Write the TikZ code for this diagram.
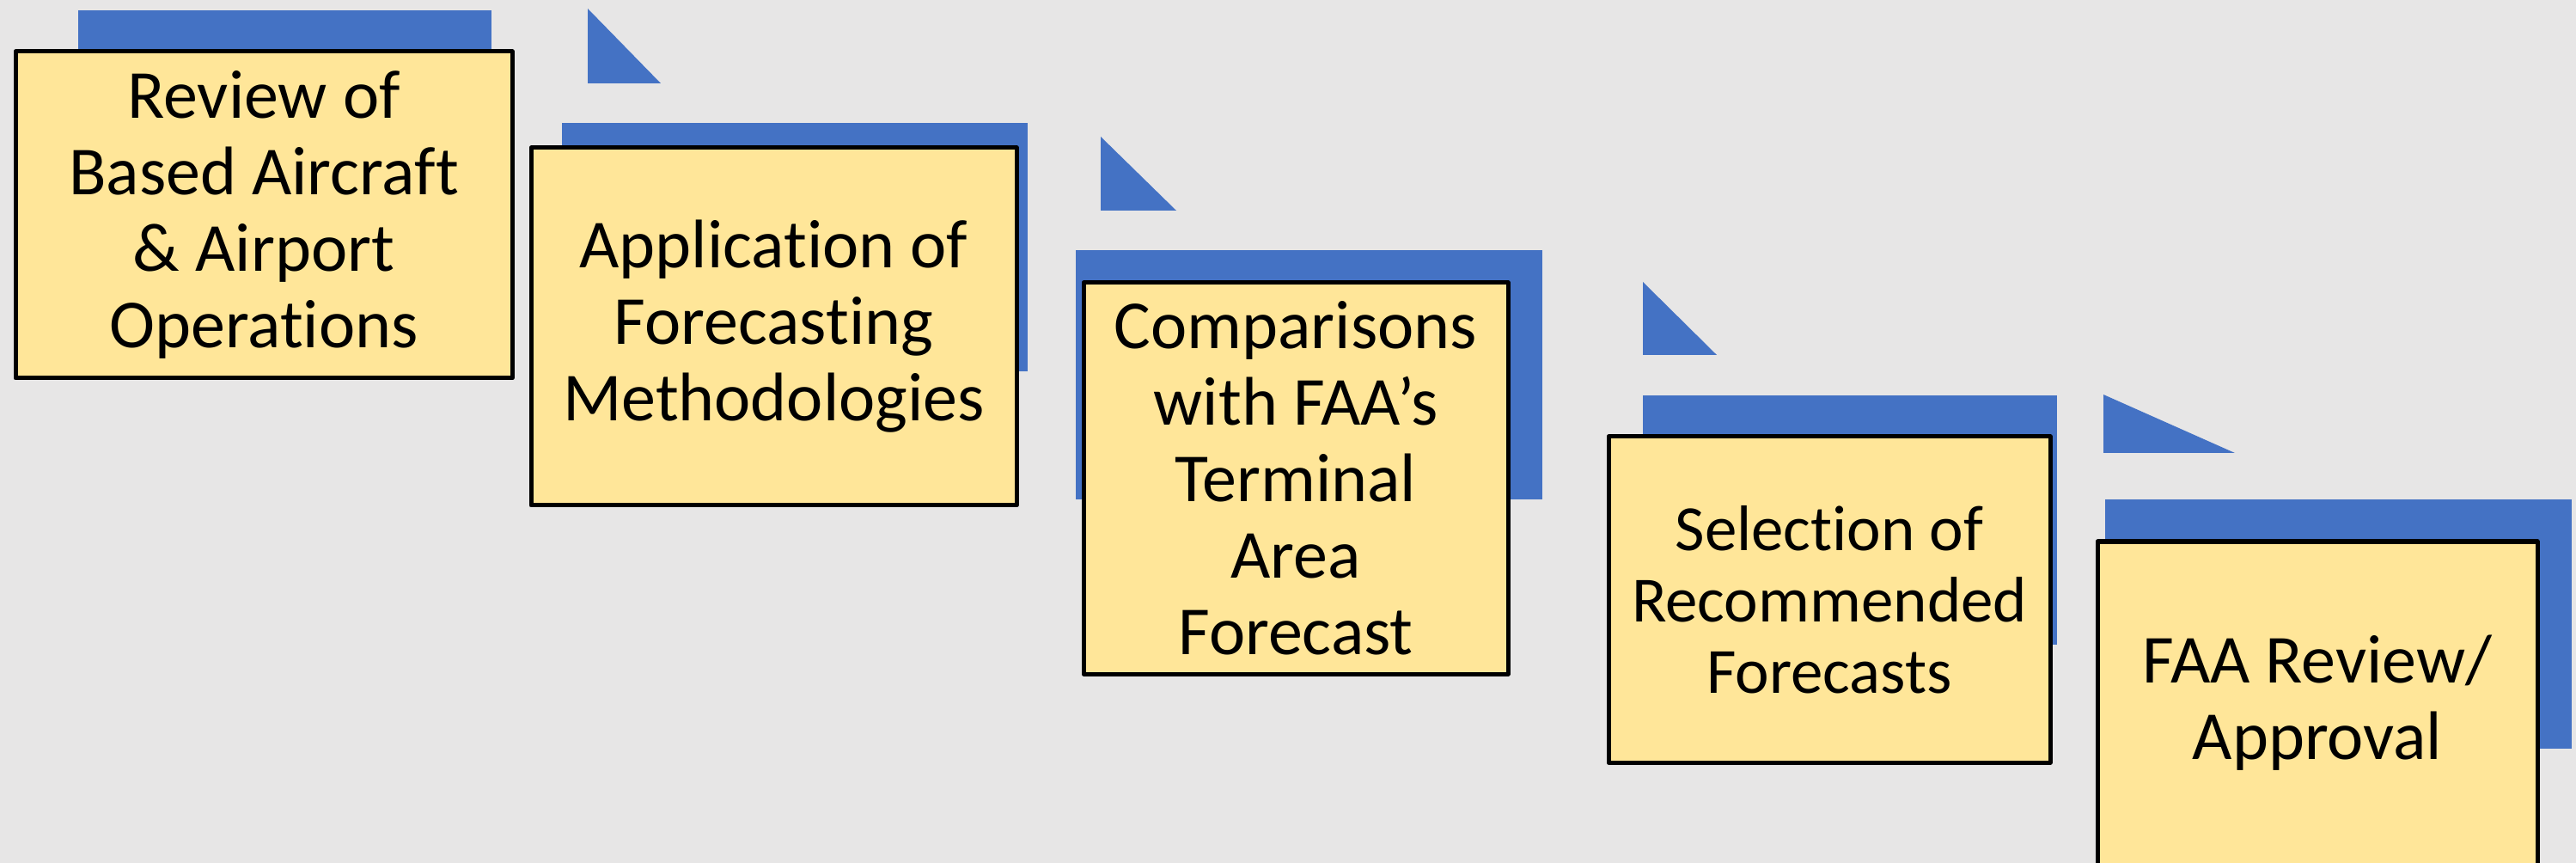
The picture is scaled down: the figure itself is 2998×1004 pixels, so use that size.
\documentclass[tikz,border=0pt]{standalone}
\usepackage{fontspec}
\setmainfont{Carlito}[Ligatures=NoCommon]

\begin{document}
\begin{tikzpicture}[x=0.25pt,y=-0.25pt,
  stepbox/.style={draw=black,fill=boxYellow,line width=1.25pt,line join=round,
    align=center,inner sep=0pt,outer sep=0pt,text=black,
    font=\fontsize{20}{22.25}\selectfont},
  tabfill/.style={fill=tabBlue}]
\definecolor{bgColor}{RGB}{231,230,230}
\definecolor{tabBlue}{RGB}{68,114,196}
\definecolor{boxYellow}{RGB}{255,230,153}
\path[use as bounding box,fill=bgColor] (0,0) rectangle (2998,1004);
\clip (0,0) rectangle (2998,1004);

% blue tabs behind the boxes
\path[tabfill] (  91, 12) rectangle ( 572,300);
\path[tabfill] ( 654,143) rectangle (1196,432);
\path[tabfill] (1252,291) rectangle (1795,581);
\path[tabfill] (1912,460) rectangle (2394,750);
\path[tabfill] (2450,581) rectangle (2993,871);

% small triangles between the steps
\path[tabfill] ( 684, 10) -- ( 684, 97) -- ( 769, 97) -- cycle;
\path[tabfill] (1281,159) -- (1281,245) -- (1369,245) -- cycle;
\path[tabfill] (1912,328) -- (1912,413) -- (1998,413) -- cycle;
\path[tabfill] (2448,459) -- (2448,527) -- (2601,527) -- cycle;

% the steps
\node[stepbox,minimum width=144.5pt,minimum height=95pt] (review) at ( 307,250)
  {Review of\\Based Aircraft\\\& Airport\\Operations};
\node[stepbox,minimum width=141.25pt,minimum height=104pt] (apply) at ( 900.5,380)
  {Application of\\Forecasting\\Methodologies};
\node[stepbox,minimum width=123.5pt,minimum height=113.75pt] (compare) at (1508,556.5)
  {Comparisons\\with FAA’s\\Terminal\\Area\\Forecast};
\node[stepbox,minimum width=128.5pt,minimum height=94.75pt,
  font=\fontsize{18.75}{20.75}\selectfont] (select) at (2129,697.5)
  {Selection of\\Recommended\\Forecasts};
\node[stepbox,minimum width=128pt,minimum height=94pt] (approve) at (2697,818)
  {FAA Review/\\Approval};
\end{tikzpicture}
\end{document}
